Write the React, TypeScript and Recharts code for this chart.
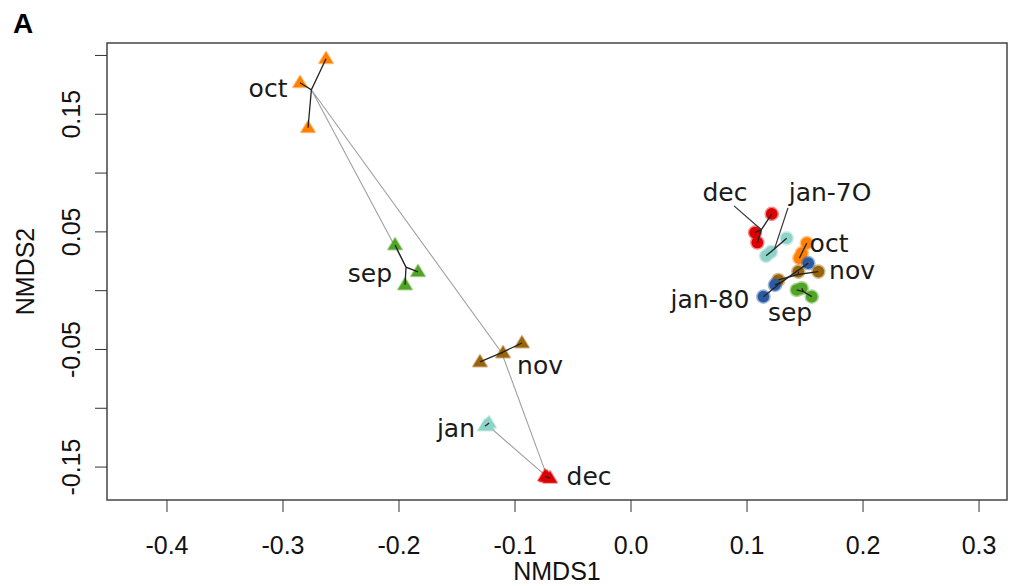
import React from 'react';
import { ScatterChart, Scatter, XAxis, YAxis, ReferenceArea } from 'recharts';

const XDOM: [number, number] = [-0.4517, 0.3241];
const YDOM: [number, number] = [-0.178, 0.2106];
const X_TICKS = [-0.4, -0.3, -0.2, -0.1, 0, 0.1, 0.2, 0.3];
const Y_TICKS = [-0.15, -0.1, -0.05, 0, 0.05, 0.1, 0.15, 0.2];
const Y_LABELLED = [-0.15, -0.05, 0.05, 0.15];

// triangles (first site)
const TRI_SEP = [[-0.2034, 0.0389], [-0.1836, 0.016], [-0.1948, 0.0049]];
const TRI_OCT = [[-0.2629, 0.1972], [-0.2853, 0.1768], [-0.2784, 0.1385]];
const TRI_NOV = [[-0.094, -0.0445], [-0.1103, -0.053], [-0.1302, -0.0606]];
const TRI_DEC = [[-0.0741, -0.1577], [-0.0698, -0.1594], [-0.0724, -0.1585]];
const TRI_JAN = [[-0.1259, -0.1151], [-0.1224, -0.1126], [-0.1241, -0.1143]];

// circles (second site)
const CIR_SEP = [[0.1428, 0.0006], [0.1472, 0.0021], [0.1558, -0.0051]];
const CIR_OCT = [[0.1515, 0.0404], [0.1472, 0.0319], [0.1451, 0.0276]];
const CIR_NOV = [[0.1615, 0.0162], [0.1442, 0.0162], [0.127, 0.0091]];
const CIR_DEC = [[0.1213, 0.0653], [0.1069, 0.0494], [0.1089, 0.0409]];
const CIR_JAN70 = [[0.1342, 0.0446], [0.1164, 0.0296], [0.1207, 0.033]];
const CIR_JAN80 = [[0.1528, 0.0234], [0.1241, 0.0049], [0.1141, -0.0051]];

const TRI_LABELS = ['oct', 'sep', 'nov', 'jan', 'dec'];
const TRI_LABEL_POS = [[-0.3129, 0.1717], [-0.225, 0.0143], [-0.0784, -0.064], [-0.1509, -0.1168], [-0.0362, -0.1577]];
const CIR_LABELS = ['dec', 'jan-7O', 'oct', 'nov', 'jan-80', 'sep'];
const CIR_LABEL_POS = [[0.081, 0.0832], [0.1716, 0.0832], [0.1707, 0.0398], [0.1905, 0.0168], [0.0681, -0.0079], [0.1371, -0.0189]];
// leader lines from label to group centre
const DEC_LEADER = [0.0888, 0.0721];
const JAN70_LEADER = [0.1353, 0.0704];

const COL = {
  sep: '#50a526',
  oct: '#ff8000',
  nov: '#9a6409',
  dec: '#dd0000',
  jan: '#8ed3c8',
  jan80: '#2b5aa0',
};

type P = { x: number; y: number; label?: string };
const toP = (a: number[][]): P[] => a.map(([x, y]) => ({ x, y }));
const mean = (a: number[][]): P => ({
  x: a.reduce((s, p) => s + p[0], 0) / a.length,
  y: a.reduce((s, p) => s + p[1], 0) / a.length,
});
const spider = (a: number[][]): P[] => {
  const c = mean(a);
  return a.flatMap(([x, y]) => [c, { x, y }]);
};

const triGroups = [
  { pts: TRI_SEP, fill: COL.sep },
  { pts: TRI_OCT, fill: COL.oct },
  { pts: TRI_NOV, fill: COL.nov },
  { pts: TRI_DEC, fill: COL.dec },
  { pts: TRI_JAN, fill: COL.jan },
];
const cirGroups = [
  { pts: CIR_SEP, fill: COL.sep },
  { pts: CIR_OCT, fill: COL.oct },
  { pts: CIR_NOV, fill: COL.nov },
  { pts: CIR_DEC, fill: COL.dec },
  { pts: CIR_JAN70, fill: COL.jan },
  { pts: CIR_JAN80, fill: COL.jan80 },
];

const trajectory = [TRI_SEP, TRI_OCT, TRI_NOV, TRI_DEC, TRI_JAN].map(mean);
const labels: P[] = [
  ...TRI_LABELS.map((label, i) => ({ x: TRI_LABEL_POS[i][0], y: TRI_LABEL_POS[i][1], label })),
  ...CIR_LABELS.map((label, i) => ({ x: CIR_LABEL_POS[i][0], y: CIR_LABEL_POS[i][1], label })),
];

const Empty = () => <g />;

const triangle = (fill: string) => (p: any) => (
  <polygon
    points={`${p.cx},${p.cy - 7} ${p.cx - 7},${p.cy + 4.5} ${p.cx + 7},${p.cy + 4.5}`}
    fill={fill}
    stroke={fill}
    strokeOpacity={0.45}
    strokeWidth={2}
    strokeLinejoin="round"
  />
);

const circle = (fill: string) => (p: any) => (
  <circle cx={p.cx} cy={p.cy} r={5.8} fill={fill} stroke={fill} strokeOpacity={0.45} strokeWidth={3} />
);

const textShape = (p: any) => (
  <text x={p.cx} y={p.cy} textAnchor="middle" dominantBaseline="central"
    fontFamily="DejaVu Sans" fontSize={25} fill="#1a1a1a">
    {p.payload.label}
  </text>
);

const YTick = (p: any) => {
  const v = p.payload.value;
  const show = Y_LABELLED.some((t) => Math.abs(t - v) < 1e-6);
  if (!show) return <g />;
  const x = p.x - 15;
  return (
    <text x={x} y={p.y} transform={`rotate(-90, ${x}, ${p.y})`} textAnchor="middle"
      fontFamily="Liberation Sans" fontSize={25} fill="#111">
      {v.toFixed(2)}
    </text>
  );
};

const XTick = (p: any) => (
  <text x={p.x} y={p.y} dy={40} textAnchor="middle" fontFamily="Liberation Sans" fontSize={25} fill="#111">
    {p.payload.value.toFixed(1)}
  </text>
);

export default function App() {
  return (
    <div style={{ position: 'fixed', left: 0, top: 0, width: 1010, height: 586, background: '#fff' }}>
      <div style={{ position: 'absolute', left: 13, top: 8, fontFamily: 'Liberation Sans', fontWeight: 'bold', fontSize: 28 }}>A</div>
      <ScatterChart width={1010} height={586} margin={{ top: 43, right: 3, bottom: 0, left: 0 }}>
        <XAxis type="number" dataKey="x" domain={XDOM} ticks={X_TICKS} allowDataOverflow
          axisLine={false} tickSize={12} tickLine={{ stroke: '#333' }} tick={<XTick />} height={86}
          label={(props: any) => {
            const vb = props.viewBox;
            return (
              <text x={vb.x + vb.width / 2} y={vb.y + 80} textAnchor="middle"
                fontFamily="Liberation Sans" fontSize={25} fill="#111">NMDS1</text>
            );
          }} />
        <YAxis type="number" dataKey="y" domain={YDOM} ticks={Y_TICKS} allowDataOverflow
          axisLine={false} tickSize={12} tickMargin={0} tickLine={{ stroke: '#333' }} tick={<YTick />} width={107}
          label={(props: any) => {
            const vb = props.viewBox;
            const x = vb.x + 34;
            const y = vb.y + vb.height / 2;
            return (
              <text x={x} y={y} transform={`rotate(-90, ${x}, ${y})`} textAnchor="middle"
                fontFamily="Liberation Sans" fontSize={25} fill="#111">NMDS2</text>
            );
          }} />
        <ReferenceArea x1={XDOM[0]} x2={XDOM[1]} y1={YDOM[0]} y2={YDOM[1]} fill="none"
          stroke="#444" strokeWidth={1.5} fillOpacity={0} ifOverflow="visible" />

        <Scatter data={trajectory} line={{ stroke: '#a0a0a0', strokeWidth: 1.1 }} shape={<Empty />} isAnimationActive={false} />

        {triGroups.map((g, i) => (
          <Scatter key={`t${i}`} data={toP(g.pts)} shape={triangle(g.fill)} isAnimationActive={false} />
        ))}
        {cirGroups.map((g, i) => (
          <Scatter key={`c${i}`} data={toP(g.pts)} shape={circle(g.fill)} isAnimationActive={false} />
        ))}
        {[...triGroups, ...cirGroups].map((g, i) => (
          <Scatter key={`s${i}`} data={spider(g.pts)} line={{ stroke: '#222', strokeWidth: 1.3 }} shape={<Empty />} isAnimationActive={false} />
        ))}

        <Scatter data={[{ x: DEC_LEADER[0], y: DEC_LEADER[1] }, mean(CIR_DEC)]} line={{ stroke: '#333', strokeWidth: 1.2 }} shape={<Empty />} isAnimationActive={false} />
        <Scatter data={[{ x: JAN70_LEADER[0], y: JAN70_LEADER[1] }, mean(CIR_JAN70)]} line={{ stroke: '#333', strokeWidth: 1.2 }} shape={<Empty />} isAnimationActive={false} />

        <Scatter data={labels} shape={textShape} isAnimationActive={false} />
      </ScatterChart>
    </div>
  );
}
